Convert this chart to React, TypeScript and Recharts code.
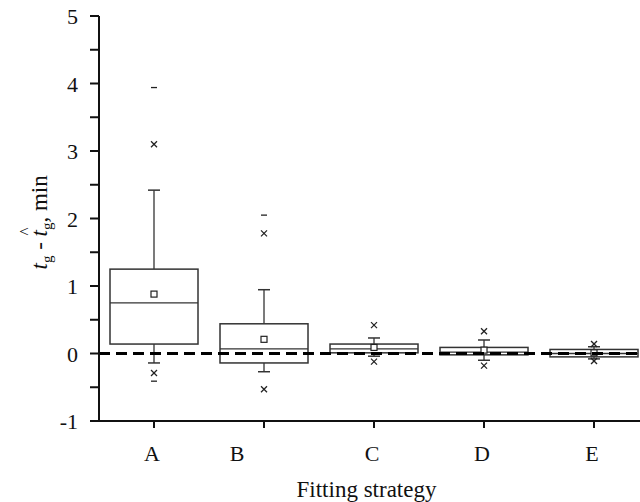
import React from 'react'
import { ComposedChart, Bar, XAxis, YAxis, ReferenceLine } from 'recharts'

// box plot summary per fitting strategy (minutes)
const categories = ['A', 'B', 'C', 'D', 'E']
const maxMark = [3.94, 2.05, null, null, null]
const highCross = [3.1, 1.78, 0.42, 0.33, 0.14]
const whiskerHigh = [2.42, 0.945, 0.23, 0.2, 0.1]
const q3 = [1.25, 0.44, 0.14, 0.09, 0.06]
const mean = [0.88, 0.21, 0.09, 0.05, 0.01]
const median = [0.75, 0.07, 0.07, 0.02, 0.0]
const q1 = [0.14, -0.14, 0.01, -0.02, -0.05]
const whiskerLow = [-0.14, -0.27, -0.04, -0.1, -0.08]
const lowCross = [-0.29, -0.53, -0.12, -0.18, -0.11]
const minMark = [-0.41, null, null, null, null]

const yTicks = [-1, -0.5, 0, 0.5, 1, 1.5, 2, 2.5, 3, 3.5, 4, 4.5, 5]

const FONT = '"Liberation Serif", "Times New Roman", serif'

const data = categories.map((name, i) => {
  const vals = [maxMark[i], highCross[i], whiskerHigh[i], lowCross[i], minMark[i]].filter(
    (v): v is number => v !== null
  )
  return {
    idx: i,
    name,
    range: [Math.min(...vals), Math.max(...vals)],
    maxMark: maxMark[i],
    highCross: highCross[i],
    whiskerHigh: whiskerHigh[i],
    q3: q3[i],
    mean: mean[i],
    median: median[i],
    q1: q1[i],
    whiskerLow: whiskerLow[i],
    lowCross: lowCross[i],
    minMark: minMark[i],
  }
})

const BoxShape = (props: any) => {
  const { x, y, width, height, payload } = props
  const [lo, hi] = payload.range
  const top = Math.min(y, y + height)
  const h = Math.abs(height)
  const py = (v: number) => top + (h * (hi - v)) / (hi - lo)
  const cx = x + width / 2
  const stroke = '#333'
  const cap = 6
  const cross = (v: number, k: string) => (
    <g key={k} stroke="#222" strokeWidth={1.3}>
      <line x1={cx - 3} y1={py(v) - 3} x2={cx + 3} y2={py(v) + 3} />
      <line x1={cx - 3} y1={py(v) + 3} x2={cx + 3} y2={py(v) - 3} />
    </g>
  )
  const dash = (v: number, k: string) => (
    <line key={k} x1={cx - 3} x2={cx + 3} y1={py(v)} y2={py(v)} stroke="#222" strokeWidth={1.3} />
  )
  return (
    <g>
      <line x1={cx} x2={cx} y1={py(payload.whiskerHigh)} y2={py(payload.q3)} stroke={stroke} strokeWidth={1.3} />
      <line x1={cx - cap} x2={cx + cap} y1={py(payload.whiskerHigh)} y2={py(payload.whiskerHigh)} stroke={stroke} strokeWidth={1.5} />
      <line x1={cx} x2={cx} y1={py(payload.q1)} y2={py(payload.whiskerLow)} stroke={stroke} strokeWidth={1.3} />
      <line x1={cx - cap} x2={cx + cap} y1={py(payload.whiskerLow)} y2={py(payload.whiskerLow)} stroke={stroke} strokeWidth={1.5} />
      <rect
        x={x}
        y={py(payload.q3)}
        width={width}
        height={py(payload.q1) - py(payload.q3)}
        fill="#fff"
        stroke={stroke}
        strokeWidth={1.5}
      />
      <line x1={x} x2={x + width} y1={py(payload.median)} y2={py(payload.median)} stroke={stroke} strokeWidth={1.3} />
      <rect x={cx - 3} y={py(payload.mean) - 3} width={6} height={6} fill="#fff" stroke="#222" strokeWidth={1.2} />
      {cross(payload.highCross, 'hc')}
      {cross(payload.lowCross, 'lc')}
      {payload.maxMark !== null && dash(payload.maxMark, 'mx')}
      {payload.minMark !== null && dash(payload.minMark, 'mn')}
    </g>
  )
}

const XTick = (props: any) => {
  const { x, y, payload } = props
  const label = categories[payload.value]
  const shift = label === 'B' ? -27 : -2
  return (
    <text x={x + shift} y={y + 31} textAnchor="middle" fontFamily={FONT} fontSize={22} fill="#111">
      {label}
    </text>
  )
}

const YTick = (props: any) => {
  const { x, y, payload } = props
  if (!Number.isInteger(payload.value)) return null
  return (
    <text x={x - 10} y={y + 8} textAnchor="end" fontFamily={FONT} fontSize={22} fill="#111">
      {payload.value}
    </text>
  )
}

const XTitle = (props: any) => {
  const { viewBox } = props
  return (
    <text
      x={viewBox.x + viewBox.width / 2 - 3}
      y={497}
      textAnchor="middle"
      fontFamily={FONT}
      fontSize={23}
      fill="#111"
    >
      Fitting strategy
    </text>
  )
}

const YTitle = (props: any) => {
  const { viewBox } = props
  const cy = viewBox.y + viewBox.height / 2
  return (
    <g transform={`translate(47,${cy}) rotate(-90)`} fontFamily={FONT} fill="#111">
      <text x={-51} y={0} fontSize={23}>
        <tspan fontStyle="italic">t</tspan>
        <tspan fontSize={15} dy={5}>g</tspan>
        <tspan dy={-5}> - </tspan>
        <tspan fontStyle="italic">t</tspan>
        <tspan fontSize={15} dy={5}>g</tspan>
        <tspan dy={-5}>, min</tspan>
      </text>
      <text x={-17} y={-16} fontSize={17}>^</text>
    </g>
  )
}

export default function App() {
  return (
    <div style={{ position: 'absolute', left: 0, top: 0, background: '#fff' }}>
      <ComposedChart width={640} height={502} data={data} margin={{ top: 16, right: 0, bottom: 0, left: 0 }}>
        <XAxis
          dataKey="idx"
          type="number"
          domain={[-0.5, 4.418]}
          ticks={[0, 1, 2, 3, 4]}
          allowDataOverflow
          height={81}
          tickSize={7}
          tick={<XTick />}
          axisLine={{ stroke: '#111', strokeWidth: 2 }}
          tickLine={{ stroke: '#111', strokeWidth: 2 }}
          label={{ content: <XTitle /> }}
        />
        <YAxis
          type="number"
          domain={[-1, 5]}
          ticks={yTicks}
          interval={0}
          width={99}
          tickSize={9}
          tick={<YTick />}
          axisLine={{ stroke: '#111', strokeWidth: 2 }}
          tickLine={{ stroke: '#111', strokeWidth: 2 }}
          label={{ content: <YTitle /> }}
        />
        <Bar dataKey="range" barSize={88} shape={<BoxShape />} isAnimationActive={false} />
        <ReferenceLine y={0} stroke="#000" strokeWidth={3} strokeDasharray="11 6" />
      </ComposedChart>
    </div>
  )
}
